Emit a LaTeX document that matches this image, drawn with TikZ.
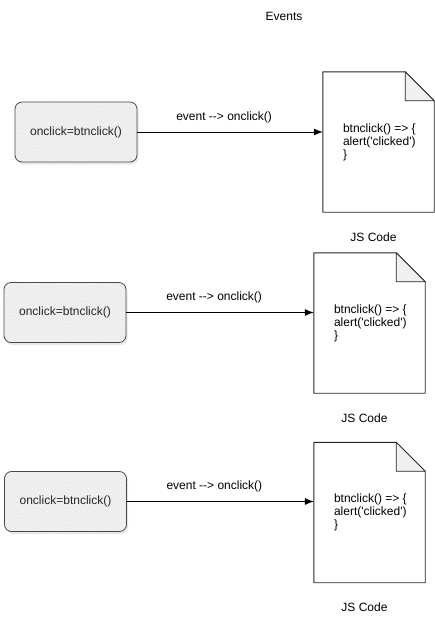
\documentclass[tikz,border=0pt]{standalone}
\usepackage{fontspec}
\setmainfont{Liberation Sans}[Ligatures=TeXOff]
\usetikzlibrary{arrows.meta,shadows,patterns.meta,calc}
\begin{document}
\begin{tikzpicture}[x=1pt,y=-1pt,
  font=\fontsize{12}{14}\selectfont,
  btnbox/.style={rounded corners=7pt, minimum width=122pt, minimum height=60pt, inner sep=0pt,
    drop shadow={opacity=0.18, shadow xshift=1.5pt, shadow yshift=-2.5pt},
    preaction={fill=gray!9},
    preaction={pattern={Lines[angle=55,distance=2.4pt,line width=0.35pt]}, pattern color=gray!28},
    draw=black!72, line width=0.8pt, text=black!85},
  docbox/.style={minimum width=111pt, minimum height=140pt, inner sep=0pt},
  docline/.style={draw=black!85, line width=0.9pt, fill=white, line join=round},
  foldline/.style={draw=black!85, line width=0.8pt, fill=gray!12, line join=round},
  code/.style={anchor=west, align=left, inner sep=0pt, font=\fontsize{12}{13}\selectfont},
  conn/.style={-{Latex[length=9pt,width=7pt]}, line width=0.8pt},
  lbl/.style={inner sep=0pt}
]
\useasboundingbox (0,0) rectangle (435,622);

\node[lbl] (title) at (284,16) {Events};

% Row 1
\node[btnbox] (b1) at (76,132) {onclick=btnclick()};
\node[docbox] (d1) at (378.5,142) {};
% Row 2
\node[btnbox] (b2) at (65,312.5) {onclick=btnclick()};
\node[docbox] (d2) at (369.5,323) {};
% Row 3
\node[btnbox] (b3) at (65.5,501.5) {onclick=btnclick()};
\node[docbox] (d3) at (369.5,512.5) {};

\foreach \i in {1,2,3}{
  \draw[docline] (d\i.north west) -- ($(d\i.north east)+(-29,0)$) -- ($(d\i.north east)+(0,29)$)
     -- (d\i.south east) -- (d\i.south west) -- cycle;
  \draw[foldline] ($(d\i.north east)+(-29,0)$) -- ($(d\i.north east)+(-29,29)$)
     -- ($(d\i.north east)+(0,29)$) -- cycle;
  \node[code] (t\i) at ($(d\i.west)+(20,0)$) {btnclick() => \{\\alert('clicked')\\\}};
  \node[lbl] (j\i) at ($(d\i.south)+(-5,25)$) {JS Code};
  \draw[conn] (b\i.east) -- (b\i.east -| d\i.west)
     node[midway, above=9pt, xshift=-6pt, lbl] (e\i) {event --> onclick()};
}
\end{tikzpicture}
\end{document}
